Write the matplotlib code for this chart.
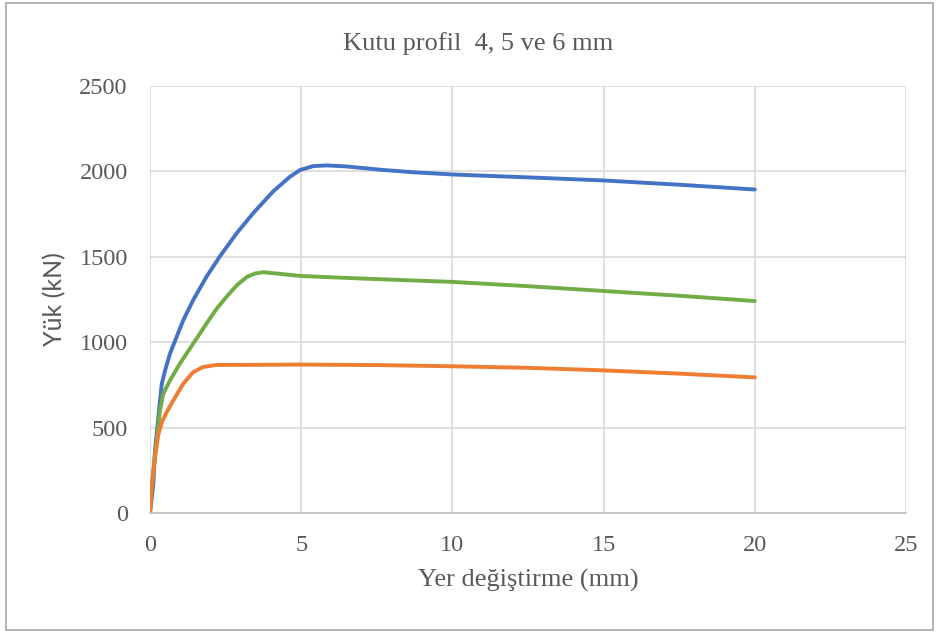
import matplotlib
matplotlib.use("Agg")
import matplotlib.pyplot as plt
from matplotlib.patches import Rectangle

# displacement (mm) / load (kN)
x_blue = [0, 0.11, 0.165, 0.275, 0.39, 0.5, 0.66, 0.88, 1.1, 1.43, 1.87, 2.31, 2.87, 3.42,
          4.08, 4.63, 4.96, 5.4, 5.84, 6.5, 7.6, 8.7, 10, 12.5, 15, 17.5, 20]
y_blue = [0, 169, 365, 561, 757, 835, 933, 1031, 1129, 1247, 1384, 1502, 1639, 1757,
          1884, 1969, 2008, 2031, 2035, 2029, 2010, 1995, 1982, 1965, 1947, 1922, 1894]

x_green = [0, 0.05, 0.2, 0.33, 0.44, 0.66, 0.99, 1.32, 1.65, 1.87, 2.2, 2.53, 2.87, 3.2,
           3.47, 3.75, 4.3, 4.96, 6.28, 8, 10, 12.5, 15, 17.5, 20]
y_green = [0, 150, 400, 600, 698, 776, 875, 963, 1051, 1110, 1195, 1266, 1333, 1382,
           1402, 1410, 1400, 1388, 1378, 1366, 1353, 1328, 1300, 1272, 1241]

x_orange = [0, 0.05, 0.165, 0.28, 0.39, 0.55, 0.77, 1.1, 1.43, 1.76, 2.2, 2.98, 5, 7.5,
            10, 12.5, 15, 17.5, 20]
y_orange = [0, 129, 325, 463, 531, 590, 659, 757, 825, 855, 867, 867, 869, 866,
            859, 850, 835, 816, 794]

x_ticks = [0, 5, 10, 15, 20, 25]
y_ticks = [0, 500, 1000, 1500, 2000, 2500]

plt.rcParams["font.family"] = ["Liberation Serif", "DejaVu Serif"]
grey = "#595959"

fig = plt.figure(figsize=(9.38, 6.33), dpi=100)
ax = fig.add_axes([150 / 938, 120 / 633, 756 / 938, 427 / 633])

ax.plot(x_blue, y_blue, color="#4472C4", lw=2.8, solid_capstyle="round", solid_joinstyle="round")
ax.plot(x_green, y_green, color="#70AD47", lw=2.8, solid_capstyle="round", solid_joinstyle="round")
ax.plot(x_orange, y_orange, color="#ED7D31", lw=2.8, solid_capstyle="round", solid_joinstyle="round")

ax.set_xlim(0, 25)
ax.set_ylim(0, 2500)
ax.set_xticks(x_ticks)
ax.set_yticks(y_ticks)
ax.grid(True, color="#D9D9D9", lw=1.2)
ax.set_axisbelow(True)
for side in ["top", "right", "left"]:
    ax.spines[side].set_visible(False)
ax.spines["bottom"].set_color("#BFBFBF")
ax.spines["bottom"].set_linewidth(1.2)
ax.tick_params(length=0, labelsize=17.5, labelcolor=grey)
ax.tick_params(axis="x", pad=16)
ax.tick_params(axis="y", pad=16)

fig.text(478 / 938, 583 / 633, "Kutu profil  4, 5 ve 6 mm", fontsize=19, color=grey,
         ha="center", va="baseline")
ax.set_xlabel("Yer değiştirme (mm)", fontsize=19, color=grey, labelpad=9)
ax.set_ylabel("Yük (kN)", fontsize=18, color=grey, labelpad=9, family=["Lato", "DejaVu Sans"])

fig.patches.append(Rectangle((6 / 938, 3 / 633), 927 / 938, 627 / 633, transform=fig.transFigure,
                             fill=False, edgecolor="#A6A6A6", lw=1.2))

fig.savefig("out.png", dpi=100)
